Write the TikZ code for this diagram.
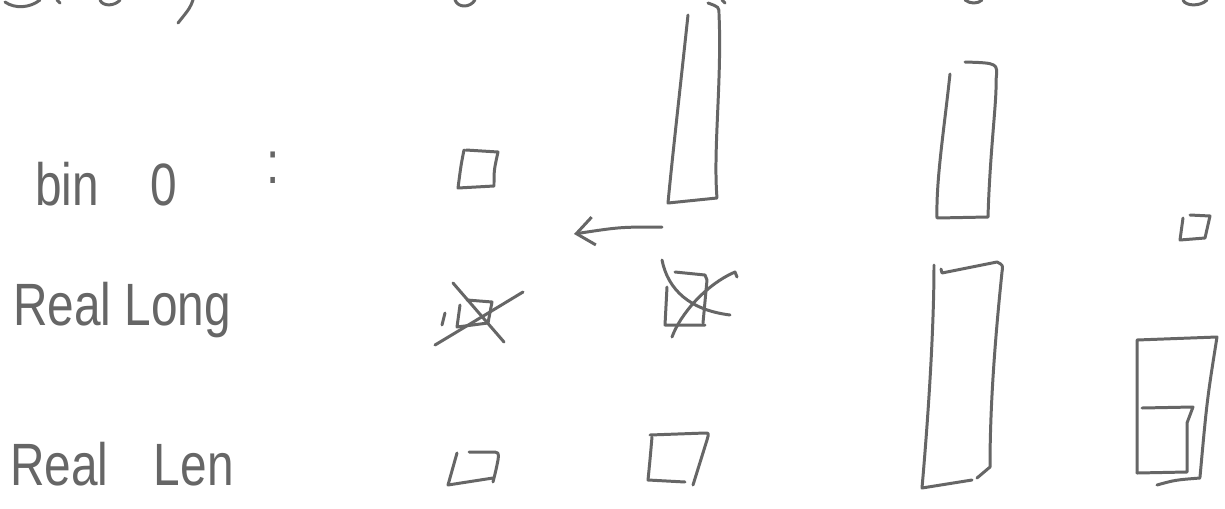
\documentclass[tikz,border=0pt]{standalone}
\usepackage{fontspec}
\setmainfont{Liberation Sans}
\usetikzlibrary{arrows.meta}
\definecolor{penc}{HTML}{666666}
\newcommand{\handtext}[1]{\scalebox{0.8}[1]{#1}}
\begin{document}
\begin{tikzpicture}[x=0.02cm,y=-0.02cm,
  pen/.style={draw=penc, line width=1.7pt, line cap=round, line join=round},
  hand/.style={text=penc, font=\fontsize{34}{38}\selectfont, inner sep=0pt, anchor=base west}]
\useasboundingbox[fill=white] (0,0) rectangle (1225,508);

% ---- labels ----
\node[hand] (bin) at (35,205) {\handtext{bin}};
\node[hand] (zero) at (150,205) {\handtext{0}};
\node[hand] (colon) at (266,183) {\handtext{:}};
\node[hand] (rlong) at (13,325) {\handtext{Real Long}};
\node[hand] (rlen) at (10,485) {\handtext{Real\hspace{0.95em}Len}};

% ---- cut-off strokes along the top edge ----
\draw[pen] (5,2) .. controls (15,9) and (30,8) .. (40,0);
\draw[pen] (57,0) -- (60,3);
\draw[pen] (100,0) .. controls (103,7) and (115,6) .. (120,0);
\draw[pen] (193,0) .. controls (190,8) .. (178,23);
\draw[pen] (455,0) .. controls (458,8) and (470,8) .. (475,0);
\draw[pen] (722,0) -- (725,3);
\draw[pen] (965,0) .. controls (970,4) and (978,4) .. (982,0);
\draw[pen] (1183,0) .. controls (1185,6) and (1200,7) .. (1207,0);

% ---- row: bin 0 ----
\draw[pen] (464,150) .. controls (461,165) .. (458,188) -- (494,186) .. controls (494,170) .. (498,152) -- (466,150);
\draw[pen] (688,15) .. controls (680,90) and (672,160) .. (668,203) -- (717,198) .. controls (713,150) and (722,80) .. (719,14) .. controls (719,7) .. (708,3);
\draw[pen] (950,74) .. controls (944,130) and (936,180) .. (937,218) -- (988,217) .. controls (990,150) and (997,100) .. (996,80) .. controls (998,63) .. (965,62);
\draw[pen] (1190,215) -- (1210,216) -- (1205,238) -- (1180,240) -- (1183,218);

% arrow
\coordinate (aS) at (662,227);
\coordinate (aE) at (574,234);
\draw[pen, -{Straight Barb[length=10pt, width=16pt]}] (aS) .. controls (620,227) .. (aE);

% ---- row: Real Long ----
\draw[pen] (467,300) -- (492,302) -- (488,323) -- (457,327) -- (460,305);
\draw[pen] (445,313) -- (442,325);
\draw[pen] (453,283) -- (504,342);
\draw[pen] (435,345) .. controls (480,318) .. (523,292);

\draw[pen] (675,272) -- (705,275) -- (707,280) -- (703,323);
\draw[pen] (667,287) -- (665,325) -- (705,325);
\draw[pen] (662,260) .. controls (668,290) and (690,310) .. (730,315);
\draw[pen] (672,337) .. controls (680,315) and (705,285) .. (735,272) -- (737,277);

\draw[pen] (934,265) .. controls (934,330) and (928,420) .. (922,488) -- (972,480);
\draw[pen] (977,478) -- (990,467) .. controls (990,400) and (996,330) .. (1002,272) .. controls (1003,265) .. (997,262) -- (942,273) -- (941,269);

% ---- row: Real Len ----
\draw[pen] (457,453) -- (448,485) -- (493,478);
\draw[pen] (493,482) .. controls (496,470) .. (498,460) .. controls (499,452) .. (490,452) -- (469,452);

\draw[pen] (652,437) .. controls (650,460) .. (648,480) -- (685,482);
\draw[pen] (650,435) -- (705,433) .. controls (709,433) .. (707,440) -- (693,485);

\draw[pen] (1137,473) -- (1137,340) -- (1217,337) .. controls (1207,400) .. (1200,477);
\draw[pen] (1142,408) -- (1193,407) -- (1187,423) -- (1187,472) -- (1137,473);
\draw[pen] (1157,485) .. controls (1175,480) .. (1200,478);
\end{tikzpicture}
\end{document}
